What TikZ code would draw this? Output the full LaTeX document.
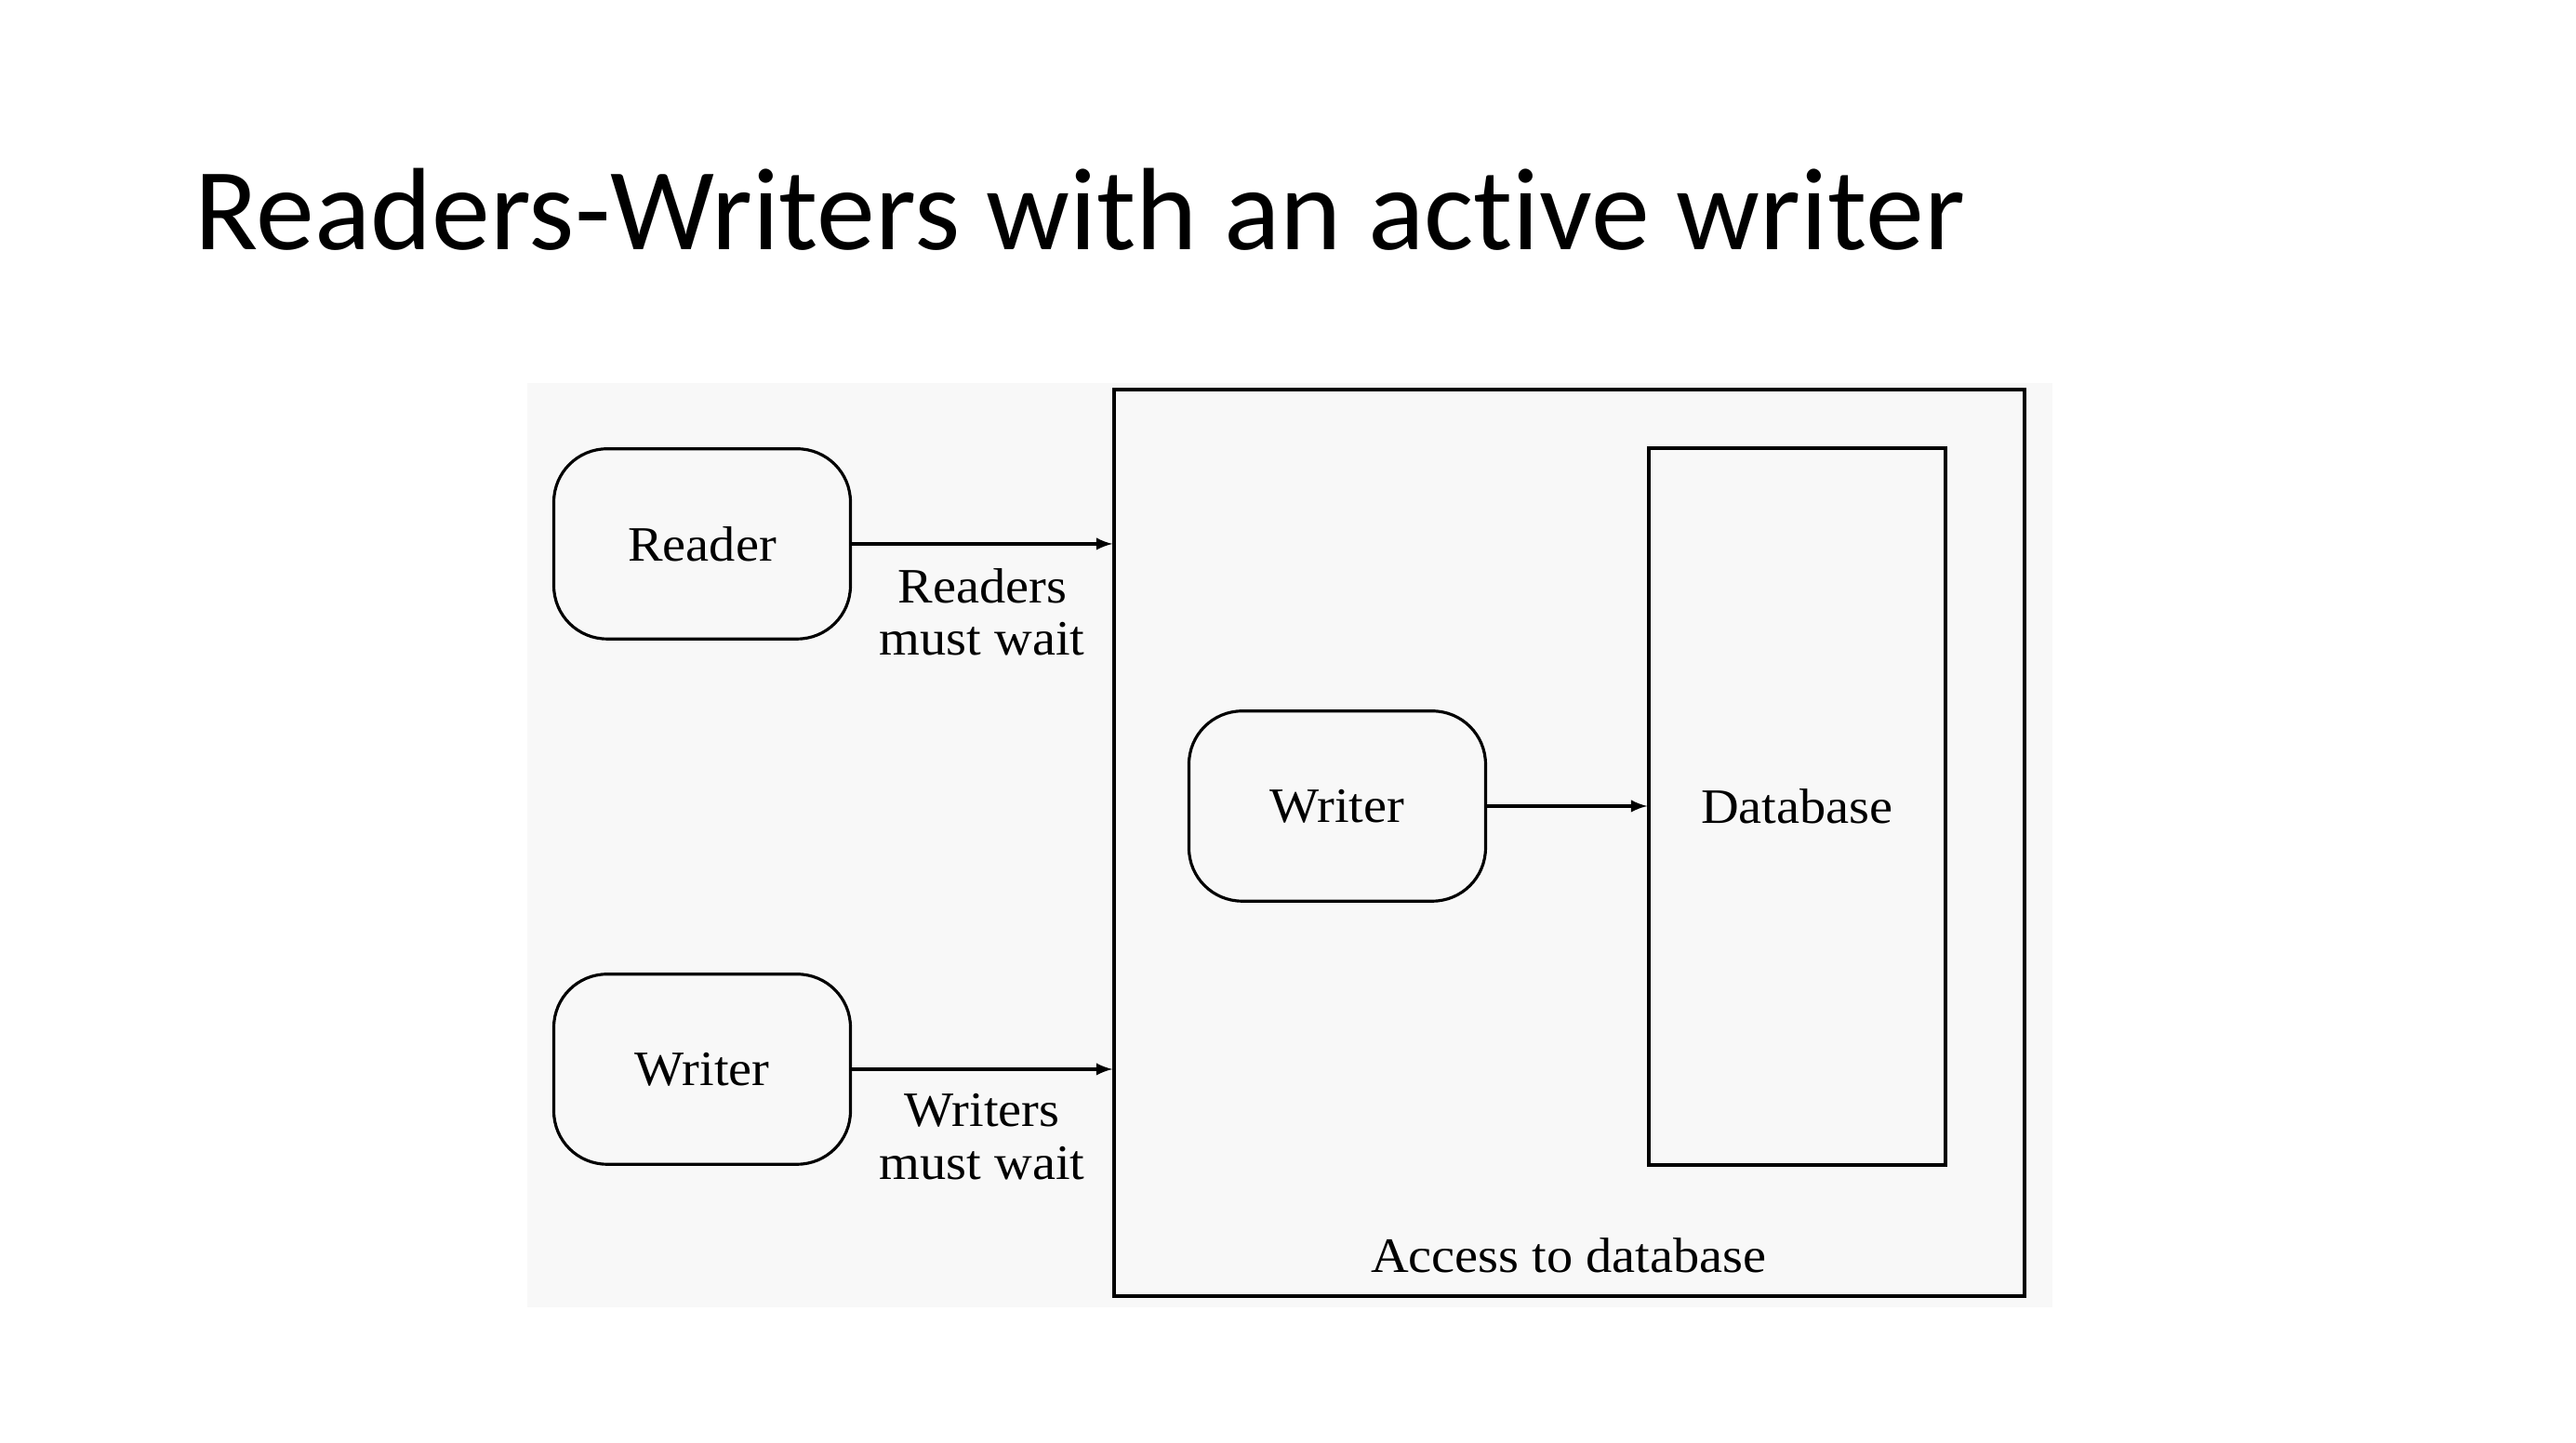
\documentclass[tikz,border=0pt]{standalone}
\usepackage{fontspec}
\setmainfont[FakeStretch=1.06]{Liberation Serif}
\newfontfamily\titlefont[Ligatures=NoCommon]{Carlito}
\usetikzlibrary{shapes,arrows,positioning,calc}
\definecolor{slidegray}{rgb}{0.973,0.973,0.973}

\begin{document}
\begin{tikzpicture}[
    proc/.style = {draw, line width=1.1pt, rounded corners=0.7cm, minimum width=3.9cm, minimum height=2.5cm, font=\fontsize{18.5}{19.6}\selectfont},
    plainbox/.style = {draw, line width=1.1pt, font=\fontsize{18.5}{19.6}\selectfont},
    lbl/.style = {font=\fontsize{18.5}{19.6}\selectfont, align=center}
]
        \useasboundingbox (0,0) rectangle (33.867,-18.975);
        \fill[slidegray] (6.932,-5.037) rectangle (26.983,-17.190);

        \node[anchor=base west, inner sep=0pt, font=\titlefont\fontsize{43.8}{50}\selectfont] (title) at (2.55,-3.283) {Readers-Writers with an act\kern0pt ive writer};

        \node[plainbox, minimum width=11.969cm, minimum height=11.92cm] (access) at (20.631,-11.083) {};
        \node[lbl] (acclbl) at (20.625,-16.505) {Access to database};
        \node[plainbox, minimum width=3.9cm, minimum height=9.426cm] (db) at (23.627,-10.606) {Database};

        \node[proc] (reader) at (9.231,-7.152) {Reader};
        \node[proc] (wleft) at (9.231,-14.060) {Writer};
        \node[proc] (wmid) at (17.581,-10.600) {Writer};

        \draw[-latex, line width=1.1pt] (reader.east) -- node[lbl, below, yshift=-0.19cm] {Readers\\must wait} (reader.east -| access.west);
        \draw[-latex, line width=1.1pt] (wleft.east) -- node[lbl, below, yshift=-0.19cm] {Writers\\must wait} (wleft.east -| access.west);
        \draw[-latex, line width=1.1pt] (wmid.east) -- (wmid.east -| db.west);
    \end{tikzpicture}
\end{document}
